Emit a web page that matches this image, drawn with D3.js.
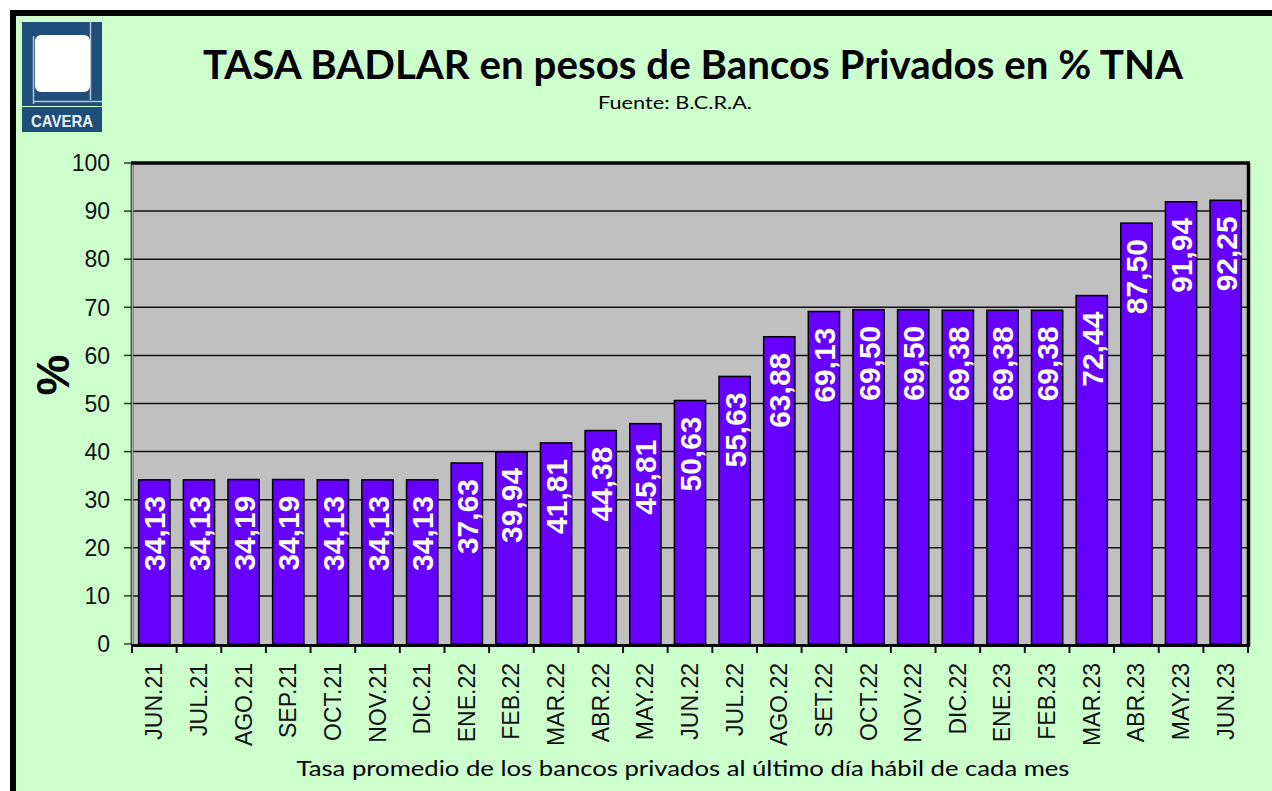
<!DOCTYPE html>
<html><head><meta charset="utf-8">
<script src="https://cdn.jsdelivr.net/npm/d3@7"></script>
<style>html,body{margin:0;padding:0;background:#fff;}svg{display:block;}</style>
</head><body>
<svg id="c" width="1272" height="791"></svg>
<script>
const categories = ["JUN.21","JUL.21","AGO.21","SEP.21","OCT.21","NOV.21","DIC.21","ENE.22","FEB.22","MAR.22","ABR.22","MAY.22","JUN.22","JUL.22","AGO.22","SET.22","OCT.22","NOV.22","DIC.22","ENE.23","FEB.23","MAR.23","ABR.23","MAY.23","JUN.23"];
const values = [34.13,34.13,34.19,34.19,34.13,34.13,34.13,37.63,39.94,41.81,44.38,45.81,50.63,55.63,63.88,69.13,69.50,69.50,69.38,69.38,69.38,72.44,87.50,91.94,92.25];
const yTicks = [0,10,20,30,40,50,60,70,80,90,100];
const title = "TASA BADLAR en pesos de Bancos Privados en % TNA";
const subtitle = "Fuente:  B.C.R.A.";
const xTitle = "Tasa promedio de los bancos privados al último día hábil de cada mes";
const yTitle = "%";

const svg = d3.select("#c");
const L = 132, R = 1248, T = 163, B = 644;

// outer frame
svg.append("rect").attr("x",0).attr("y",0).attr("width",1272).attr("height",791).attr("fill","#fff");
svg.append("rect").attr("x",13).attr("y",13).attr("width",1275).attr("height",800)
  .attr("fill","#ccffcc").attr("stroke","#000").attr("stroke-width",6);

// logo
const lg = svg.append("g");
lg.append("rect").attr("x",22).attr("y",22).attr("width",80).attr("height",84).attr("fill","#1f4e7a");
lg.append("line").attr("x1",90.5).attr("x2",90.5).attr("y1",22).attr("y2",100).attr("stroke","#b4c4d4").attr("stroke-width",1.5);
lg.append("line").attr("x1",33.5).attr("x2",33.5).attr("y1",36).attr("y2",104).attr("stroke","#b4c4d4").attr("stroke-width",1.5);
lg.append("line").attr("x1",33).attr("x2",102).attr("y1",101.5).attr("y2",101.5).attr("stroke","#b4c4d4").attr("stroke-width",1.5);
lg.append("rect").attr("x",35).attr("y",35).attr("width",55).attr("height",57).attr("rx",6).attr("fill","#fff");
lg.append("rect").attr("x",22).attr("y",107).attr("width",80).attr("height",25).attr("fill","#1f4e7a");
lg.append("text").attr("x",62).attr("y",127).attr("text-anchor","middle").attr("fill","#e8eef4")
  .attr("font-family","Liberation Sans Narrow, Liberation Sans, Arial").attr("font-weight","bold").attr("font-size",17)
  .attr("textLength",62).attr("lengthAdjust","spacingAndGlyphs").text("CAVERA");

// titles
svg.append("text").attr("x",693).attr("y",79).attr("text-anchor","middle")
  .attr("font-family","Lato, 'Open Sans', sans-serif").attr("font-weight","bold").attr("font-size",41)
  .attr("textLength",980).attr("lengthAdjust","spacingAndGlyphs").attr("fill","#000").text(title);
svg.append("text").attr("x",675).attr("y",109).attr("text-anchor","middle")
  .attr("font-family","Lato, 'Open Sans', sans-serif").attr("font-size",18)
  .attr("textLength",154).attr("lengthAdjust","spacingAndGlyphs").attr("fill","#000").text(subtitle);
svg.append("text").attr("x",683).attr("y",776).attr("text-anchor","middle")
  .attr("font-family","Lato, 'Open Sans', sans-serif").attr("font-size",22)
  .attr("textLength",773).attr("lengthAdjust","spacingAndGlyphs").attr("fill","#000").text(xTitle);
svg.append("text").attr("transform","translate(69,375) rotate(-90)").attr("text-anchor","middle")
  .attr("font-family","Liberation Sans, Arial").attr("font-weight","bold").attr("font-size",46).attr("fill","#000").text(yTitle);

// scales
const x = d3.scaleBand().domain(categories).range([L,R]).paddingInner(0.3).paddingOuter(0.15);
const y = d3.scaleLinear().domain([0,100]).range([B,T]);

// plot area
svg.append("rect").attr("x",L).attr("y",T).attr("width",R-L).attr("height",B-T).attr("fill","#c0c0c0");
// gridlines
svg.append("g").selectAll("line").data(yTicks.filter(d=>d>0&&d<100)).join("line")
  .attr("x1",L).attr("x2",R).attr("y1",d=>y(d)).attr("y2",d=>y(d)).attr("stroke","#111").attr("stroke-width",1.5);

// bars
svg.append("g").selectAll("rect").data(values).join("rect")
  .attr("x",(d,i)=>x(categories[i])).attr("width",x.bandwidth())
  .attr("y",d=>y(d)).attr("height",d=>B-y(d))
  .attr("fill","#6600ff").attr("stroke","#000").attr("stroke-width",1.5);

// bar labels
const fmt = d3.format(".2f");
svg.append("g").selectAll("text").data(values).join("text")
  .attr("transform",(d,i)=>`translate(${x(categories[i])+x.bandwidth()/2+11},${y(d)+16}) rotate(-90)`)
  .attr("text-anchor","end").attr("fill","#fff")
  .attr("font-family","Liberation Sans, Arial").attr("font-weight","bold").attr("font-size",30)
  .text(d=>fmt(d).replace(".",","));

// plot borders
svg.append("line").attr("x1",L).attr("x2",L).attr("y1",T).attr("y2",B).attr("stroke","#555").attr("stroke-width",3);
svg.append("line").attr("x1",L+0.5).attr("x2",L+0.5).attr("y1",T).attr("y2",B).attr("stroke","#aaa").attr("stroke-width",1);
svg.append("line").attr("x1",L-1).attr("x2",R+2).attr("y1",T).attr("y2",T).attr("stroke","#000").attr("stroke-width",3.5);
svg.append("line").attr("x1",R+0.5).attr("x2",R+0.5).attr("y1",T).attr("y2",B+2).attr("stroke","#000").attr("stroke-width",3.5);
svg.append("line").attr("x1",L-1).attr("x2",R+2).attr("y1",B+1.5).attr("y2",B+1.5).attr("stroke","#000").attr("stroke-width",3);

// y axis ticks & labels
const yAx = svg.append("g");
yAx.selectAll("line").data(yTicks).join("line")
  .attr("x1",L-8).attr("x2",L).attr("y1",d=>y(d)).attr("y2",d=>y(d)).attr("stroke","#333").attr("stroke-width",1.5);
yAx.selectAll("text").data(yTicks).join("text")
  .attr("x",L-22).attr("y",d=>y(d)).attr("dy","0.36em").attr("text-anchor","end")
  .attr("font-family","Liberation Sans, Arial").attr("font-size",23).attr("fill","#111").text(d=>d);

// x axis ticks (category boundaries)
const half = x.step()*x.paddingInner()/2;
const bounds = categories.map(c=>x(c)-half).concat([x(categories[categories.length-1])+x.bandwidth()+half]);
svg.append("g").selectAll("line").data(bounds).join("line")
  .attr("x1",d=>d).attr("x2",d=>d).attr("y1",B+2).attr("y2",B+9).attr("stroke","#111").attr("stroke-width",2);
svg.append("g").selectAll("text").data(categories).join("text")
  .attr("transform",d=>`translate(${x(d)+x.bandwidth()/2+8},663) rotate(-90)`)
  .attr("text-anchor","end")
  .attr("font-family","Liberation Sans, Arial").attr("font-size",23).attr("fill","#111").text(d=>d);
</script>
</body></html>
